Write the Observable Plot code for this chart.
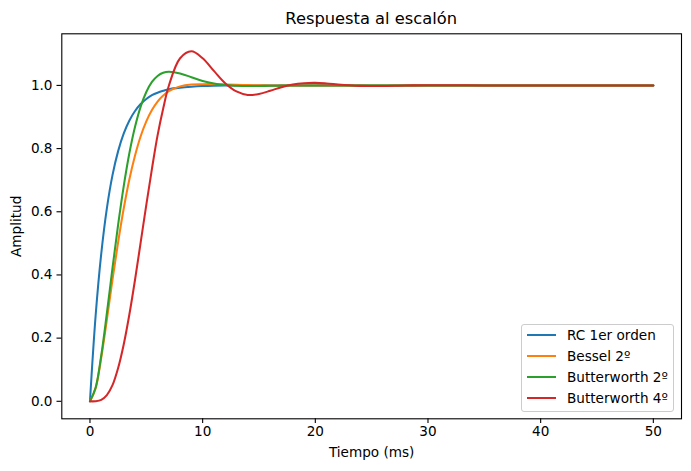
<!DOCTYPE html>
<html>
<head>
<meta charset="utf-8">
<script src="https://cdn.jsdelivr.net/npm/d3@7"></script>
<script src="https://cdn.jsdelivr.net/npm/@observablehq/plot@0.6"></script>
<style>
  html, body { margin: 0; padding: 0; background: #fff; }
  body { font-family: "DejaVu Sans", sans-serif; width: 691px; height: 471px; overflow: hidden; }
  #title { position: relative; height: 30px; box-sizing: border-box; padding-top: 10.7px; line-height: 1;
           font-size: 16.3px; color: #000; }
  #title span { position: absolute; left: 61.3px; width: 619.7px; text-align: center; }
  #wrap { position: relative; }
  #legend { position: absolute; left: 521px; top: 294px; width: 153px; height: 87.5px; box-sizing: border-box;
            border: 1px solid #cccccc; border-radius: 3px; background: rgba(255,255,255,0.8); font-size: 13.6px; }
  .item { position: absolute; left: 0; height: 16px; }
  .item .sw { position: absolute; left: 5px; width: 29px; height: 2px; top: 7px; }
  .item .lb { position: absolute; left: 45px; top: 0; white-space: nowrap; line-height: 16px; color: #000; }
</style>
</head>
<body>
<div id="title"><span>Respuesta al escalón</span></div>
<div id="wrap"><div id="legend"></div></div>
<script>
// Time samples (ms)
const tiempo = [0, 0.5, 1, 1.5, 2, 2.5, 3, 3.5, 4, 4.5, 5, 5.5, 6, 6.5, 7, 8, 9, 10, 11, 12, 13, 14, 15, 16, 17, 18, 19, 20, 21, 22, 23, 24, 25, 26, 28, 30, 35, 40, 45, 50];
// Series values
const rc1 = [0, 0.270, 0.467, 0.611, 0.716, 0.792, 0.848, 0.889, 0.919, 0.941, 0.957, 0.969, 0.977, 0.983, 0.988, 0.993, 0.996, 0.998, 0.999, 0.9995, 1, 1, 1, 1, 1, 1, 1, 1, 1, 1, 1, 1, 1, 1, 1, 1, 1, 1, 1, 1];
const bessel2 = [0, 0.041, 0.138, 0.258, 0.385, 0.504, 0.611, 0.703, 0.778, 0.839, 0.886, 0.922, 0.949, 0.968, 0.982, 0.997, 1.003, 1.004, 1.004, 1.003, 1.002, 1.001, 1.0005, 1, 1, 1, 1, 1, 1, 1, 1, 1, 1, 1, 1, 1, 1, 1, 1, 1];
const butter2 = [0, 0.043, 0.145, 0.279, 0.422, 0.559, 0.682, 0.786, 0.869, 0.933, 0.979, 1.011, 1.030, 1.040, 1.043, 1.038, 1.026, 1.014, 1.006, 1.001, 0.999, 0.998, 0.998, 0.999, 0.9993, 0.9997, 1, 1, 1, 1, 1, 1, 1, 1, 1, 1, 1, 1, 1, 1];
const butter4 = [0, 0.0003, 0.0047, 0.0198, 0.0512, 0.1053, 0.1806, 0.2755, 0.3848, 0.503, 0.622, 0.736, 0.842, 0.927, 0.999, 1.086, 1.108, 1.086, 1.046, 1.007, 0.981, 0.970, 0.973, 0.983, 0.9945, 1.003, 1.007, 1.008, 1.006, 1.003, 1.0004, 0.9985, 0.998, 0.998, 0.9998, 1.0005, 1, 1, 1, 1];

const seriesNames = ["RC 1er orden", "Bessel 2º", "Butterworth 2º", "Butterworth 4º"];
const seriesValues = [rc1, bessel2, butter2, butter4];
const seriesColors = ["#1f77b4", "#ff7f0e", "#2ca02c", "#d62728"];
const xTicks = [0, 10, 20, 30, 40, 50];
const yTicks = [0, 0.2, 0.4, 0.6, 0.8, 1.0];

const data = seriesNames.flatMap((name, i) => tiempo.map((t, j) => ({serie: name, t, v: seriesValues[i][j]})));

const chart = Plot.plot({
  width: 691,
  height: 441,
  marginLeft: 61.3,
  marginRight: 10,
  marginTop: 3.3,
  marginBottom: 52.7,
  style: {fontFamily: "DejaVu Sans", fontSize: "13.6px", color: "#000", background: "#fff"},
  x: {domain: [-2.5, 52.5]},
  y: {domain: [-0.0554, 1.1634]},
  color: {domain: seriesNames, range: seriesColors},
  marks: [
    Plot.line(data, {x: "t", y: "v", stroke: "serie", strokeWidth: 2.04, curve: "catmull-rom", z: "serie"}),
    Plot.frame({stroke: "#000", strokeWidth: 1.1}),
    Plot.axisX({ticks: xTicks, tickSize: 4.8, tickPadding: 3, strokeWidth: 1.1, label: "Tiempo (ms)", labelAnchor: "center", labelArrow: "none", labelOffset: 38.4, fontSize: 13.6}),
    Plot.axisY({ticks: yTicks, tickFormat: d3.format(".1f"), tickSize: 4.8, tickPadding: 4.5, strokeWidth: 1.1, label: "Amplitud", labelAnchor: "center", labelArrow: "none", labelOffset: 50, fontSize: 13.6})
  ]
});
const wrap = document.getElementById("wrap");
wrap.insertBefore(chart, wrap.firstChild);

const legend = document.getElementById("legend");
seriesNames.forEach((name, i) => {
  const it = document.createElement("div");
  it.className = "item";
  it.style.top = (2 + i * 21) + "px";
  it.innerHTML = `<div class="sw" style="background:${seriesColors[i]}"></div><div class="lb">${name}</div>`;
  legend.appendChild(it);
});
</script>
</body>
</html>
